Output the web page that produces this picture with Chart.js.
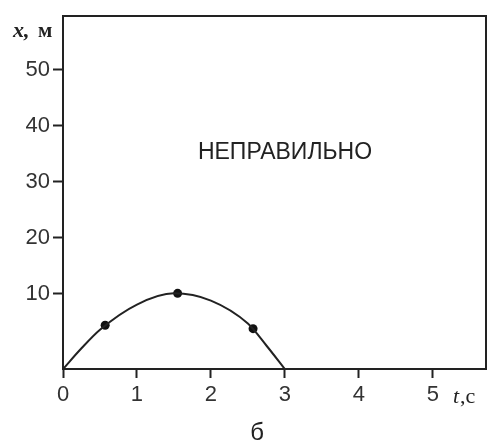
<!DOCTYPE html>
<html>
<head>
<meta charset="utf-8">
<script src="https://cdn.jsdelivr.net/npm/chart.js@4/dist/chart.umd.min.js"></script>
<style>
  html, body { margin: 0; padding: 0; background: #fff; }
</style>
</head>
<body>
<canvas id="chart" width="499" height="444"></canvas>
<script>
// curve (t in s, x in m)
const curveT = [0, 0.25, 0.5, 1, 1.5, 2, 2.5, 2.75, 3];
const curveX = [-3.4, 0.3, 3.6, 8.1, 10.1, 8.8, 4.7, 0.8, -3.4];
// the three marked points
const dotT = [0.57, 1.55, 2.57];
const dotX = [4.4, 10.1, 3.8];
// tick labels
const tTicks = [0, 1, 2, 3, 4, 5];
const xTicks = [10, 20, 30, 40, 50];

const ink = '#222';
const sans = '"Liberation Sans", Arial, sans-serif';
const serif = '"Liberation Serif", "Times New Roman", serif';

const labels = {
  id: 'labels',
  afterDraw(chart) {
    const ctx = chart.ctx;
    ctx.save();
    ctx.fillStyle = ink;
    ctx.textBaseline = 'alphabetic';

    ctx.font = '23px ' + sans;
    ctx.textAlign = 'center';
    ctx.fillText('НЕПРАВИЛЬНО', 285, 159);

    ctx.font = '24px ' + sans;
    ctx.fillText('б', 257, 440);

    // axis names
    ctx.textAlign = 'left';
    ctx.font = 'italic bold 22px ' + serif;
    ctx.fillText('x,', 13, 37);
    ctx.font = 'bold 21px ' + serif;
    ctx.fillText('м', 38, 37);

    ctx.font = 'italic 22px ' + serif;
    ctx.fillText('t', 453, 403);
    const w = ctx.measureText('t').width;
    ctx.font = '22px ' + serif;
    ctx.fillText(',c', 453 + w + 1, 403);
    ctx.restore();
  }
};

const tickFont = { family: sans, size: 22 };

new Chart(document.getElementById('chart'), {
  type: 'line',
  data: {
    datasets: [
      {
        data: curveT.map((t, i) => ({ x: t, y: curveX[i] })),
        borderColor: ink,
        borderWidth: 2,
        pointRadius: 0,
        cubicInterpolationMode: 'monotone',
        clip: false
      },
      {
        data: dotT.map((t, i) => ({ x: t, y: dotX[i] })),
        showLine: false,
        pointRadius: 4.5,
        pointBackgroundColor: '#111',
        pointBorderColor: '#111',
        pointBorderWidth: 0
      }
    ]
  },
  options: {
    responsive: false,
    animation: false,
    layout: { padding: { left: 0, top: 12, right: 13, bottom: 0 } },
    plugins: { legend: { display: false }, tooltip: { enabled: false } },
    scales: {
      x: {
        type: 'linear',
        position: 'bottom',
        min: 0,
        max: 5.72,
        afterBuildTicks: s => { s.ticks = tTicks.map(v => ({ value: v })); },
        afterFit: s => { s.height = 75; },
        grid: { drawOnChartArea: false, tickLength: 9, tickWidth: 2, tickColor: ink },
        border: { color: ink, width: 2 },
        ticks: { font: tickFont, color: '#333', padding: 4 }
      },
      y: {
        type: 'linear',
        position: 'left',
        min: -3.39,
        max: 59.5,
        afterBuildTicks: s => { s.ticks = xTicks.map(v => ({ value: v })); },
        afterFit: s => { s.width = 63; },
        grid: { drawOnChartArea: false, tickLength: 10, tickWidth: 2, tickColor: ink },
        border: { color: ink, width: 2 },
        ticks: { font: tickFont, color: '#333', padding: 3 }
      },
      x2: {
        type: 'linear',
        position: 'top',
        min: 0,
        max: 1,
        afterFit: s => { s.height = 0; },
        grid: { display: false },
        border: { color: ink, width: 2 },
        ticks: { display: false }
      },
      y2: {
        type: 'linear',
        position: 'right',
        min: 0,
        max: 1,
        afterFit: s => { s.width = 0; },
        grid: { display: false },
        border: { color: ink, width: 2 },
        ticks: { display: false }
      }
    }
  },
  plugins: [labels]
});
</script>
</body>
</html>
